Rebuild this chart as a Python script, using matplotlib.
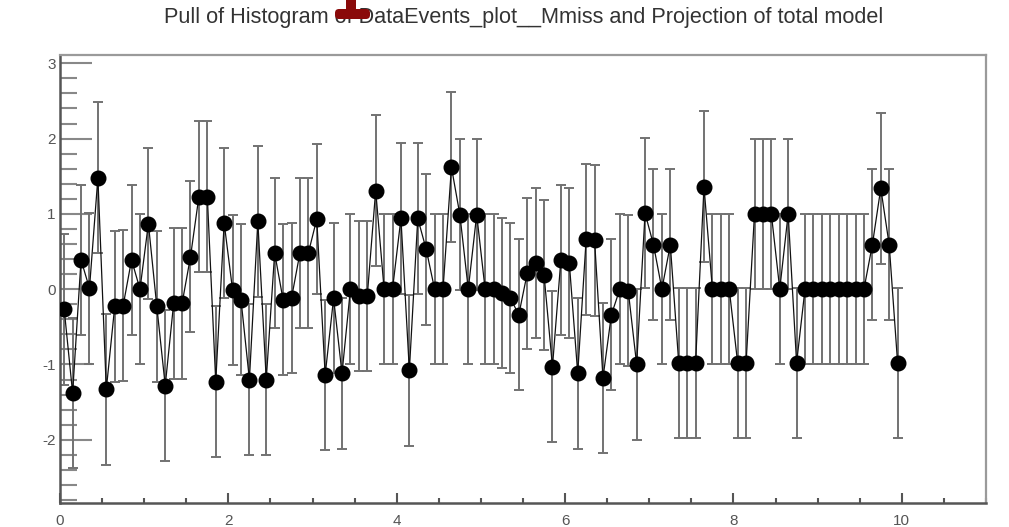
import matplotlib
matplotlib.use("Agg")
import matplotlib.pyplot as plt
from matplotlib.ticker import MultipleLocator, FixedLocator
from matplotlib.patches import Rectangle, FancyBboxPatch
from matplotlib.transforms import IdentityTransform

plt.rcParams['font.family'] = ['Liberation Sans', 'DejaVu Sans']
plt.rcParams['axes.unicode_minus'] = False

title = "Pull of Histogram of DataEvents_plot__Mmiss and Projection of total model"

bin_centers = [0.05, 0.15, 0.25, 0.35, 0.45, 0.55, 0.65, 0.75, 0.85, 0.95,
               1.05, 1.15, 1.25, 1.35, 1.45, 1.55, 1.65, 1.75, 1.85, 1.95,
               2.05, 2.15, 2.25, 2.35, 2.45, 2.55, 2.65, 2.75, 2.85, 2.95,
               3.05, 3.15, 3.25, 3.35, 3.45, 3.55, 3.65, 3.75, 3.85, 3.95,
               4.05, 4.15, 4.25, 4.35, 4.45, 4.55, 4.65, 4.75, 4.85, 4.95,
               5.05, 5.15, 5.25, 5.35, 5.45, 5.55, 5.65, 5.75, 5.85, 5.95,
               6.05, 6.15, 6.25, 6.35, 6.45, 6.55, 6.65, 6.75, 6.85, 6.95,
               7.05, 7.15, 7.25, 7.35, 7.45, 7.55, 7.65, 7.75, 7.85, 7.95,
               8.05, 8.15, 8.25, 8.35, 8.45, 8.55, 8.65, 8.75, 8.85, 8.95,
               9.05, 9.15, 9.25, 9.35, 9.45, 9.55, 9.65, 9.75, 9.85, 9.95]

pull = [-0.27, -1.38, 0.39, 0.01, 1.48, -1.33, -0.23, -0.22, 0.39, 0.00,
        0.87, -0.23, -1.28, -0.19, -0.19, 0.43, 1.23, 1.23, -1.23, 0.88,
        -0.01, -0.14, -1.20, 0.90, -1.20, 0.48, -0.14, -0.12, 0.48, 0.48,
        0.93, -1.14, -0.12, -1.12, 0.00, -0.09, -0.09, 1.31, 0.00, 0.00,
        0.94, -1.08, 0.94, 0.53, 0.00, 0.00, 1.62, 0.99, 0.00, 0.99,
        0.00, 0.00, -0.05, -0.12, -0.34, 0.21, 0.35, 0.19, -1.03, 0.39,
        0.35, -1.12, 0.66, 0.65, -1.18, -0.34, 0.00, -0.02, -1.00, 1.01,
        0.59, 0.00, 0.59, -0.98, -0.98, -0.98, 1.36, 0.00, 0.00, 0.00,
        -0.98, -0.98, 1.00, 1.00, 1.00, 0.00, 1.00, -0.98, 0.00, 0.00,
        0.00, 0.00, 0.00, 0.00, 0.00, 0.00, 0.59, 1.34, 0.59, -0.98]

err_lo = [1.0] * 100
err_hi = [1.0] * 100

x_major = [0, 2, 4, 6, 8, 10]
y_major = [-2, -1, 0, 1, 2, 3]

W, H = 1009, 527
fig = plt.figure(figsize=(W / 100, H / 100), dpi=100)
ax = fig.add_axes([60 / W, (H - 503) / H, 926 / W, 448 / H])

ax.errorbar(bin_centers, pull, yerr=[err_lo, err_hi], fmt='none',
            ecolor='#727272', elinewidth=1.4, capsize=3.6, capthick=1.4, zorder=2)
ax.plot(bin_centers, pull, '-', color='#111111', lw=0.9, zorder=3)
ax.plot(bin_centers, pull, 'o', color='black', ms=10.5, zorder=4)

ax.set_xlim(0, 11)
ax.set_ylim(-2.84, 3.11)

ax.xaxis.set_major_locator(FixedLocator(x_major))
ax.xaxis.set_minor_locator(MultipleLocator(0.5))
ax.yaxis.set_major_locator(FixedLocator(y_major))
ax.yaxis.set_minor_locator(MultipleLocator(0.2))

ax.tick_params(axis='x', which='major', direction='in', length=7.5, width=1.5,
               color='#555555', labelsize=11, labelcolor='#555555', pad=8)
ax.tick_params(axis='x', which='minor', direction='in', length=3.8, width=1.5,
               color='#555555')
ax.tick_params(axis='y', which='major', direction='in', length=23, width=1.5,
               color='#888888', labelsize=11, labelcolor='#555555', pad=3)
ax.tick_params(axis='y', which='minor', direction='in', length=12, width=1.5,
               color='#888888')

for s in ['left', 'bottom']:
    ax.spines[s].set_color('#555555')
    ax.spines[s].set_linewidth(1.8)
for s in ['top', 'right']:
    ax.spines[s].set_color('#9a9a9a')
    ax.spines[s].set_linewidth(1.6)

fig.text(524 / W, 1 - 18 / H, title, ha='center', va='center', fontsize=15.6,
         color='#333333')

# dark red fragment overlapping the title (from the source image)
fig.add_artist(Rectangle((346, H - 10), 10, 10, transform=IdentityTransform(),
                         facecolor='#8a0a0a', edgecolor='none', zorder=10))
fig.add_artist(FancyBboxPatch((337, H - 17), 31, 6, boxstyle='round,pad=2,rounding_size=4',
                              transform=IdentityTransform(), facecolor='#8a0a0a',
                              edgecolor='none', zorder=10))

fig.savefig('out.png', dpi=100)
